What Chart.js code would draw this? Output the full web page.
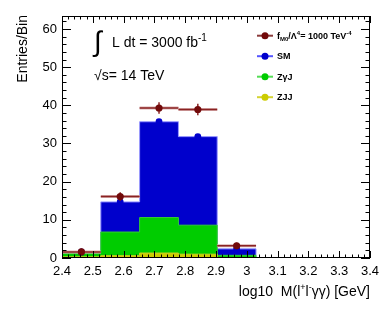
<!DOCTYPE html>
<html>
<head>
<meta charset="utf-8">
<script src="https://cdn.jsdelivr.net/npm/chart.js@4.4.1/dist/chart.umd.min.js"></script>
<style>
  html, body { margin: 0; padding: 0; background: #fff; }
  #histChart { display: block; }
</style>
</head>
<body>
<canvas id="histChart" width="390" height="309"></canvas>
<script>
// Histogram of log10 M(l+l-yy)

const binEdges = [2.4, 2.526, 2.652, 2.778, 2.904, 3.03];
const fM0 = [1.6, 16.1, 39.3, 38.9, 3.2];      // f_M0/L^4 = 1000 TeV^-4 (points)
const fM0Err = [0.4, 0.6, 1.0, 1.0, 0.3];
const smVals = [1.6, 14.7, 35.7, 31.8, 2.4];   // SM
const zgjVals = [1.2, 6.8, 10.6, 8.6, 0.7];    // Z gamma J
const zjjVals = [0.3, 0.6, 1.3, 1.0, 0.15];    // ZJJ
const xTicks = [2.4, 2.5, 2.6, 2.7, 2.8, 2.9, 3.0, 3.1, 3.2, 3.3, 3.4];
const yTicks = [0, 10, 20, 30, 40, 50, 60];

const xMin = 2.4, xMax = 3.4, yMax = 63.4;
const FONT = "'Liberation Sans', Arial, sans-serif";

// bin contents -> stepped line points (left edge of each bin)
function histPoints(vals) {
    const pts = vals.map((v, i) => ({ x: binEdges[i], y: v }));
    pts.push({ x: binEdges[vals.length], y: 0 });
    pts.push({ x: xMax, y: 0 });
    return pts;
}

function centerPoints(vals) {
    return vals.map((v, i) => ({ x: (binEdges[i] + binEdges[i + 1]) / 2, y: v }));
}

function histSet(label, vals, fill, line, order) {
    return {
        type: 'line',
        label: label,
        data: histPoints(vals),
        stepped: true,
        showLine: true,
        fill: 'origin',
        backgroundColor: fill,
        borderColor: line,
        borderWidth: 1,
        pointRadius: 0,
        order: order
    };
}

// horizontal (bin width) + vertical error bars under the f_M0 markers
const errorBars = {
    id: 'errorBars',
    beforeDatasetDraw(chart, args) {
        const ds = chart.data.datasets[args.index];
        if (!ds.errX) return;
        const ctx = chart.ctx;
        const xs = chart.scales.x, ys = chart.scales.y;
        ctx.save();
        ds.data.forEach((p, i) => {
            const x0 = xs.getPixelForValue(binEdges[i]);
            const x1 = xs.getPixelForValue(binEdges[i + 1]);
            const y = ys.getPixelForValue(p.y);
            ctx.strokeStyle = '#d9b0b0';
            ctx.lineWidth = 3;
            ctx.beginPath(); ctx.moveTo(x0, y); ctx.lineTo(x1, y); ctx.stroke();
            ctx.strokeStyle = '#8a2222';
            ctx.lineWidth = 1.5;
            ctx.beginPath(); ctx.moveTo(x0, y); ctx.lineTo(x1, y); ctx.stroke();
            const ey0 = ys.getPixelForValue(p.y - ds.errY[i]);
            const ey1 = ys.getPixelForValue(p.y + ds.errY[i]);
            ctx.beginPath(); ctx.moveTo(xs.getPixelForValue(p.x), ey0 + 2); ctx.lineTo(xs.getPixelForValue(p.x), ey1 - 2); ctx.stroke();
        });
        ctx.restore();
    }
};

// ROOT style frame with inward ticks on all four sides
const rootFrame = {
    id: 'rootFrame',
    afterDatasetsDraw(chart) {
        const ctx = chart.ctx;
        const a = chart.chartArea;
        const xs = chart.scales.x, ys = chart.scales.y;
        ctx.save();
        ctx.strokeStyle = '#000';
        ctx.lineWidth = 1;
        ctx.strokeRect(Math.round(a.left) + 0.5, Math.round(a.top) + 0.5,
            Math.round(a.right - a.left) - 1, Math.round(a.bottom - a.top) - 1);
        ctx.beginPath();
        // x ticks every 0.02, major every 0.1
        for (let k = 0; k <= 50; k++) {
            const v = xMin + k * 0.02;
            const px = Math.round(xs.getPixelForValue(v)) + 0.5;
            const len = (k % 5 === 0) ? 7 : 3.5;
            ctx.moveTo(px, a.bottom); ctx.lineTo(px, a.bottom - len);
            ctx.moveTo(px, a.top); ctx.lineTo(px, a.top + len);
        }
        // y ticks every 2, major every 10
        for (let v = 0; v <= yMax; v += 2) {
            const py = Math.round(ys.getPixelForValue(v)) + 0.5;
            const len = (v % 10 === 0) ? 9 : 4.5;
            ctx.moveTo(a.left, py); ctx.lineTo(a.left + len, py);
            ctx.moveTo(a.right, py); ctx.lineTo(a.right - len, py);
        }
        ctx.stroke();
        ctx.restore();
    }
};

function drawParts(ctx, parts, x, y, weight) {
    parts.forEach(p => {
        ctx.font = weight + ' ' + p.size + 'px ' + FONT;
        ctx.fillText(p.t, x, y + (p.dy || 0));
        x += ctx.measureText(p.t).width;
    });
}

// axis titles, annotations and the legend
const annotations = {
    id: 'annotations',
    afterDraw(chart) {
        const ctx = chart.ctx;
        ctx.save();
        ctx.fillStyle = '#000';
        ctx.textBaseline = 'alphabetic';

        // y title
        ctx.save();
        ctx.translate(26.5, 15);
        ctx.rotate(-Math.PI / 2);
        ctx.textAlign = 'right';
        ctx.font = '14px ' + FONT;
        ctx.fillText('Entries/Bin', 0, 0);
        ctx.restore();

        // x title
        ctx.textAlign = 'left';
        const xParts = [
            { t: 'log10  M(l', size: 14 }, { t: '+', size: 9, dy: -6 },
            { t: 'l', size: 14 }, { t: '-', size: 9, dy: -6 },
            { t: '\u03b3\u03b3) [GeV]', size: 14 }
        ];
        ctx.font = '14px ' + FONT;
        let w = 0;
        xParts.forEach(p => { ctx.font = p.size + 'px ' + FONT; w += ctx.measureText(p.t).width; });
        drawParts(ctx, xParts, 370 - w, 296, 'normal');

        // luminosity and energy
        ctx.font = '28px ' + FONT;
        ctx.fillText('\u222b', 94, 51);
        drawParts(ctx, [{ t: 'L dt = 3000 fb', size: 14 }, { t: '-1', size: 10, dy: -6 }], 112, 47, 'normal');
        drawParts(ctx, [{ t: '\u221as= 14 TeV', size: 14 }], 94, 80, 'normal');

        // legend
        const entries = [
            { line: '#8b3b3b', mark: '#720a0a', parts: [
                { t: 'f', size: 9 }, { t: 'M0', size: 6, dy: 2 }, { t: '/\u039b', size: 9 },
                { t: '4', size: 6, dy: -4 }, { t: '= 1000 TeV', size: 9 }, { t: '-4', size: 6, dy: -4 }] },
            { line: '#5555ff', mark: '#0000cc', parts: [{ t: 'SM', size: 9 }] },
            { line: '#55dd55', mark: '#00cc00', parts: [{ t: 'Z\u03b3J', size: 9 }] },
            { line: '#d4d433', mark: '#cccc00', parts: [{ t: 'ZJJ', size: 9 }] }
        ];
        entries.forEach((e, i) => {
            const cy = 35.7 + i * 20.5;
            ctx.strokeStyle = e.line;
            ctx.lineWidth = 2;
            ctx.beginPath(); ctx.moveTo(257, cy); ctx.lineTo(273, cy); ctx.stroke();
            ctx.fillStyle = e.mark;
            ctx.beginPath(); ctx.arc(265, cy, 3.5, 0, Math.PI * 2); ctx.fill();
            ctx.fillStyle = '#000';
            drawParts(ctx, e.parts, 277, cy + 3.2, 'bold');
        });
        ctx.restore();
    }
};

var histCtx = document.getElementById('histChart').getContext('2d');

var histChart = new Chart(histCtx, {
    type: 'scatter',
    data: {
        datasets: [{
            label: 'f_M0',
            data: centerPoints(fM0),
            errX: true,
            errY: fM0Err,
            pointRadius: 3.6,
            pointBackgroundColor: '#720a0a',
            pointBorderWidth: 0,
            order: 0
        }, {
            label: 'SM points',
            data: centerPoints(smVals),
            pointRadius: 3.4,
            pointBackgroundColor: '#0000cc',
            pointBorderWidth: 0,
            order: 1
        },
            histSet('ZJJ', zjjVals, '#cccc00', '#cccc22', 2),
            histSet('ZyJ', zgjVals, '#00cc00', '#33cc33', 3),
            histSet('SM', smVals, '#0000cc', '#9a9aff', 4)
        ]
    },
    options: {
        responsive: false,
        animation: false,
        events: [],
        layout: { padding: { top: 16, right: 20, left: 0, bottom: 0 } },
        plugins: { legend: { display: false }, tooltip: { enabled: false } },
        scales: {
            x: {
                type: 'linear',
                min: xMin,
                max: xMax,
                afterBuildTicks: (s) => { s.ticks = xTicks.map(v => ({ value: v })); },
                afterFit: (s) => { s.height = 51; },
                grid: { display: false, drawTicks: false },
                border: { display: false },
                ticks: {
                    color: '#000',
                    padding: 6,
                    maxRotation: 0,
                    autoSkip: false,
                    font: { family: FONT, size: 13 },
                    callback: (v) => (Math.round(v * 10) / 10).toString()
                }
            },
            y: {
                min: 0,
                max: yMax,
                afterBuildTicks: (s) => { s.ticks = yTicks.map(v => ({ value: v })); },
                afterFit: (s) => { s.width = 62; },
                grid: { display: false, drawTicks: false },
                border: { display: false },
                ticks: {
                    color: '#000',
                    padding: 5,
                    autoSkip: false,
                    font: { family: FONT, size: 13 }
                }
            }
        }
    },
    plugins: [errorBars, rootFrame, annotations]
});
</script>
</body>
</html>
